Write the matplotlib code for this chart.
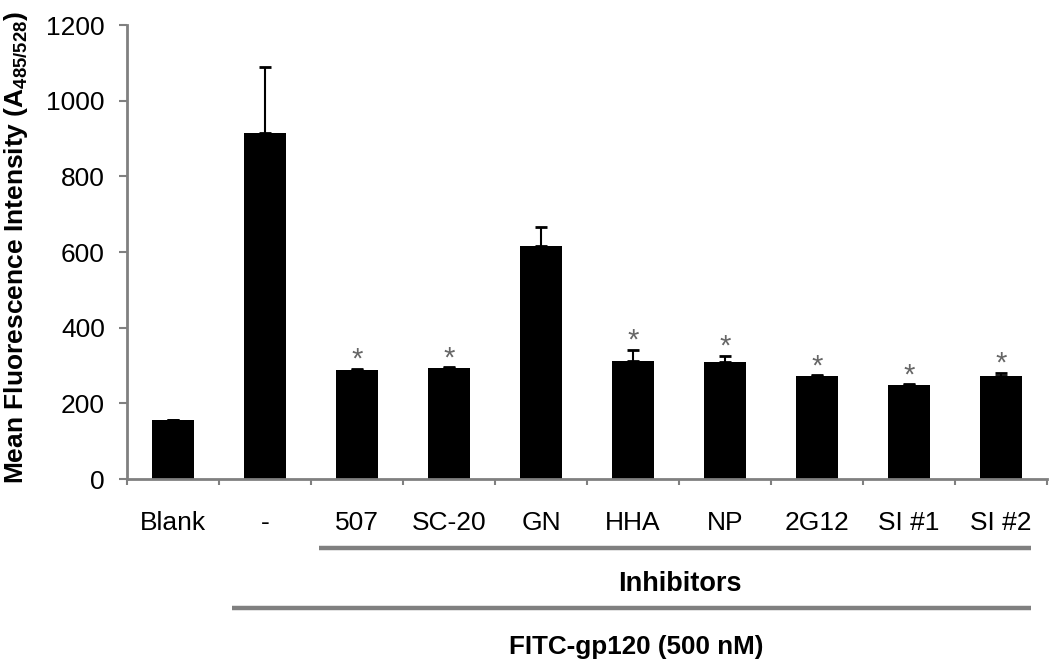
import numpy as np
import matplotlib.pyplot as plt

plt.rcParams['font.family'] = ['Liberation Sans', 'DejaVu Sans']
plt.rcParams['mathtext.fontset'] = 'custom'
plt.rcParams['mathtext.rm'] = 'Liberation Sans'
plt.rcParams['mathtext.bf'] = 'Liberation Sans:bold'

labels = ['Blank', '-', '507', 'SC-20', 'GN', 'HHA', 'NP', '2G12', 'SI #1', 'SI #2']
means = [156, 914, 288, 294, 616, 313, 309, 272, 249, 273]
errs = [0, 176, 4, 1, 49, 28, 17, 2, 1, 8]
signif = [False, False, True, True, False, True, True, True, True, True]

grey = '#808080'

fig = plt.figure(figsize=(10.5, 6.59), dpi=100)
ax = fig.add_axes([0.121, 0.273, 0.876, 0.689])

x = np.arange(len(labels))
ax.bar(x, means, width=0.45, color='black', zorder=2)
ax.errorbar(x, means, yerr=[np.zeros(len(errs)), errs], fmt='none',
            ecolor='black', elinewidth=1.5, capsize=4, capthick=2, zorder=3)

for xi, m, e, s in zip(x, means, errs, signif):
    if s:
        ax.annotate('*', (xi, m + e), xytext=(0, -3.5), textcoords='offset points',
                    ha='center', va='bottom', fontsize=21, color='#666666')

ax.set_xlim(-0.5, len(labels) - 0.5)
ax.set_ylim(0, 1200)
ax.set_yticks(range(0, 1201, 200))
ax.tick_params(axis='y', labelsize=19, direction='out', length=6, width=1.5,
               color=grey, pad=10)

# category labels, with tick marks between the categories
ax.set_xticks(np.arange(-0.5, len(labels), 1.0))
ax.set_xticklabels([])
ax.tick_params(axis='x', direction='out', length=4.5, width=1.5, color=grey)
trans = ax.get_xaxis_transform()
for xi, lab in zip(x, labels):
    ax.text(xi, -0.097, lab, transform=trans, ha='center', va='center',
            fontsize=19)

for side in ['top', 'right']:
    ax.spines[side].set_visible(False)
for side in ['left', 'bottom']:
    ax.spines[side].set_color(grey)
    ax.spines[side].set_linewidth(2)

ax.set_ylabel(r'Mean Fluorescence Intensity (A$_{\mathbf{485/528}}$)',
              fontsize=19, fontweight='bold')
ax.yaxis.set_label_coords(-0.106, 0.51)

# group brackets under the axis
ax.plot([1.587, 9.326], [-0.152, -0.152], transform=trans, color=grey,
        lw=3.2, clip_on=False, solid_capstyle='butt')
ax.text(5.51, -0.23, 'Inhibitors', transform=trans, ha='center', va='center',
        fontsize=19.5, fontweight='bold')
ax.plot([0.641, 9.326], [-0.284, -0.284], transform=trans, color=grey,
        lw=3.2, clip_on=False, solid_capstyle='butt')
ax.text(5.03, -0.37, 'FITC-gp120 (500 nM)', transform=trans, ha='center',
        va='center', fontsize=18.7, fontweight='bold')

fig.savefig('out.png', dpi=100)
